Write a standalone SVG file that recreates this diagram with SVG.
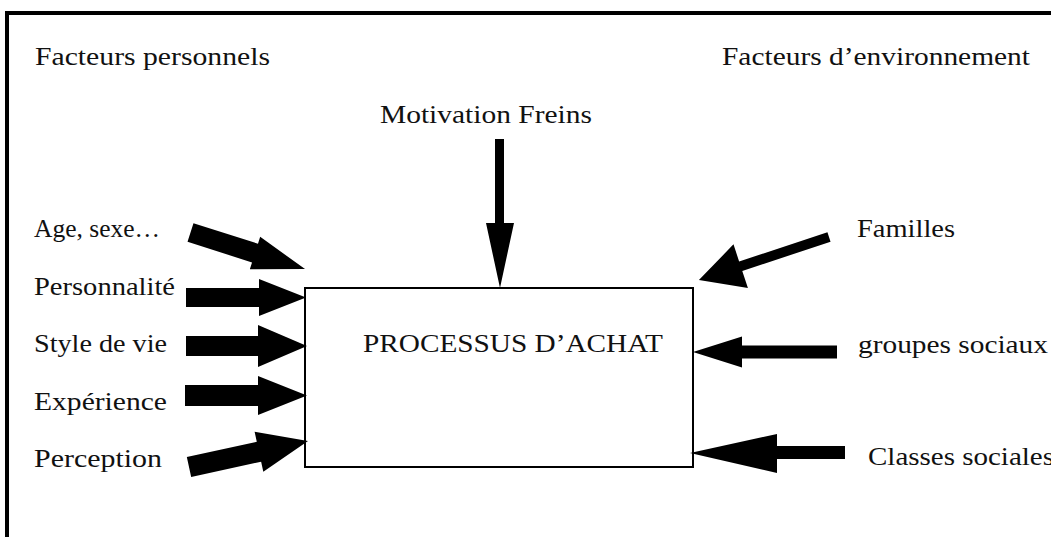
<svg xmlns="http://www.w3.org/2000/svg" width="1051" height="537" viewBox="0 0 1051 537">
<style>
.t{font-family:"Liberation Serif","Times New Roman",serif;font-size:25px;fill:#111}
.ar{fill:#000}
</style>
<rect width="1051" height="537" fill="#fff"/>
<rect x="7" y="13" width="1200" height="700" fill="none" stroke="#000" stroke-width="4"/>
<g id="labels">
<text class="t" x="35" y="65" textLength="235" lengthAdjust="spacingAndGlyphs">Facteurs personnels</text>
<text class="t" x="722" y="65" textLength="308" lengthAdjust="spacingAndGlyphs">Facteurs d’environnement</text>
</g>
<g id="node-processus">
<rect x="305" y="288" width="388" height="179" fill="none" stroke="#000" stroke-width="2"/>
<text class="t" x="363" y="352" textLength="300" lengthAdjust="spacingAndGlyphs">PROCESSUS D’ACHAT</text>
</g>
<g id="node-motivation"><text class="t" x="380" y="123" textLength="212" lengthAdjust="spacingAndGlyphs">Motivation Freins</text></g>
<g id="node-age"><text class="t" x="34" y="237" textLength="126" lengthAdjust="spacingAndGlyphs">Age, sexe…</text></g>
<g id="node-personnalite"><text class="t" x="34" y="295" textLength="141" lengthAdjust="spacingAndGlyphs">Personnalité</text></g>
<g id="node-style"><text class="t" x="34" y="352" textLength="133" lengthAdjust="spacingAndGlyphs">Style de vie</text></g>
<g id="node-experience"><text class="t" x="34" y="410" textLength="133" lengthAdjust="spacingAndGlyphs">Expérience</text></g>
<g id="node-perception"><text class="t" x="34" y="467" textLength="128" lengthAdjust="spacingAndGlyphs">Perception</text></g>
<g id="node-familles"><text class="t" x="857" y="237" textLength="98" lengthAdjust="spacingAndGlyphs">Familles</text></g>
<g id="node-groupes"><text class="t" x="858" y="353" textLength="190" lengthAdjust="spacingAndGlyphs">groupes sociaux</text></g>
<g id="node-classes"><text class="t" x="868" y="465" textLength="186" lengthAdjust="spacingAndGlyphs">Classes sociales</text></g>
<g id="connectors">
<!-- top -->
<polygon class="ar" points="495,139 504,139 504,223 514,223 500,288 486,223 495,223"/>
<!-- age -->
<polygon class="ar" transform="translate(190.5,232.5) rotate(17.68)" points="0,-9.8 67.7,-9.8 67.7,-17 120.2,0 67.7,17 67.7,9.8 0,9.8"/>
<!-- personnalite -->
<polygon class="ar" points="186,288 259,288 259,279 306,297.5 259,316 259,307 186,307"/>
<!-- style -->
<polygon class="ar" points="186,336 258,336 258,325 307,346 258,367 258,356 186,356"/>
<!-- experience -->
<polygon class="ar" points="185,385 258,385 258,376 307,395.5 258,415 258,406 185,406"/>
<!-- perception -->
<polygon class="ar" transform="translate(189,467) rotate(-12.3)" points="0,-10.2 71.6,-10.2 71.6,-20.4 121.8,0 71.6,20.4 71.6,10.2 0,10.2"/>
<!-- familles -->
<polygon class="ar" transform="translate(829,237) rotate(161.7)" points="0,-5 93,-5 93,-23 137,0 93,23 93,5 0,5"/>
<!-- groupes -->
<polygon class="ar" points="837,345.5 742,345.5 742,336.5 693,352 742,367.5 742,358.5 837,358.5"/>
<!-- classes -->
<polygon class="ar" points="845,446 777,446 777,434 690,453 777,473 777,459 845,459"/>
</g>
</svg>
